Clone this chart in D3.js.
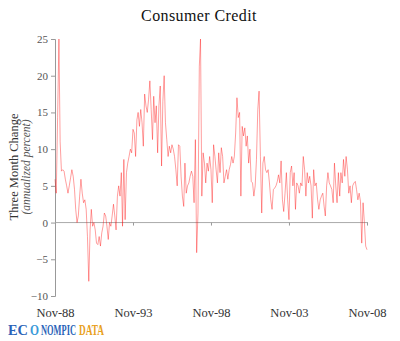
<!DOCTYPE html>
<html>
<head>
<meta charset="utf-8">
<script src="https://cdn.jsdelivr.net/npm/d3@7"></script>
<style>
  html, body { margin: 0; padding: 0; background: #fff; }
  svg { display: block; }
</style>
</head>
<body>
<svg id="chart" width="400" height="341"></svg>
<script>
// ---- Data (monthly, starting Nov-1988) ----
const startMonth = "1988-11";
const values = [
  5.9, 4.0, 14.3, 25, 11, 7, 7.2, 7, 5.9, 5,
  4, 5, 6.1, 7.2, 6.3, 4.5, 1.8, 0, 0.9, 3.6,
  5.9, 4, 2.7, 3.1, 1.8, -1.9, -8, -1, 1.8, -0.5,
  0, -1, -2.8, -3, -1.9, -3.2, -1.4, -0.5, 1.3, 0.9,
  -0.5, -2.3, 0, -0.5, 0.9, 2.5, 0.9, -1, 3.6, 5,
  3.6, 6.8, -0.5, 8.6, 0.4, 6.8, 8.1, 9, 10, 9.5,
  12.7, 12.2, 9, 14, 15, 13.1, 15.4, 13.6, 10.4, 17.5,
  15.9, 15, 16.8, 19.3, 15.4, 11.3, 17.2, 13.6, 15.9, 9.5,
  15.9, 18.6, 7.7, 16.5, 20, 13.6, 11.3, 9, 10.4, 9.5,
  10.6, 10, 9, 7.2, 5, 10.6, 10.4, 6.3, 3.6, 2.2,
  8.1, 4, 5, 5.4, 6.3, 7, 6.3, 2.7, 11.3, -4.1,
  1.3, 21.3, 25, 3.6, 9.5, 8.1, 5.4, 8.1, 7, 9,
  7.2, 2.7, 10.6, 9, 7.2, 5.4, 9.5, 6.8, 10.2, 9,
  5.4, 6.3, 7.2, 5.9, 7.2, 7.9, 9, 8.1, 9, 12.2,
  17, 14.3, 15, 3.6, 13.1, 11.8, 12.9, 10.4, 11.8, 8.1,
  10, 5.6, 5.4, 3.6, 5, 8.6, 15.4, 17.9, 9, 1.3,
  8.1, 9, 7.2, 6.8, 7.2, 5.4, 3.1, 1.8, 4.5, 4.7,
  5, 5.6, 6.5, 5.4, 8.4, 3.1, 1.5, 4, 6.8, 3.1,
  0.4, 6.8, 7.7, 5, 6.8, 1.8, 5.4, 5, 4, 5.4,
  5, 9, 7.2, 3.6, 6.8, 5.4, 6.3, 5, 0.6, 7.2,
  5, 5.4, 3.1, 1.8, 3.1, 3.6, 4, 2.2, 0.9, 5,
  6.8, 5.4, 5, 4.5, 2.7, 8.1, 5, 2.7, 6.8, 3.6,
  6.8, 5.4, 8.6, 6.3, 9, 7.2, 4, 5, 2.7, 5,
  5.4, 5.6, 4.5, 3.1, 4, 2.9, -2.8, 2.7, 0, -3.2,
  -3.7
];
const xTickDates = ["1988-11", "1993-11", "1998-11", "2003-11", "2008-11"];
const xTickLabels = ["Nov-88", "Nov-93", "Nov-98", "Nov-03", "Nov-08"];
const yTicks = [-10, -5, 0, 5, 10, 15, 20, 25];
const title = "Consumer Credit";
const yLabel1 = "Three Month Change";
const yLabel2 = "(annualized percent)";
const logoParts = ["EC", "O", "NOMPIC", "DATA"];

// ---- Build ----
const parseM = d3.timeParse("%Y-%m");
const t0 = parseM(startMonth);
const data = values.map((v, i) => ({ date: d3.timeMonth.offset(t0, i), value: v }));
const tickDates = xTickDates.map(parseM);

const svg = d3.select("#chart");
const serif = "'Liberation Serif', 'DejaVu Serif', serif";

const x = d3.scaleTime()
  .domain([tickDates[0], tickDates[tickDates.length - 1]])
  .range([55, 367]);
const y = d3.scaleLinear().domain([-10, 25]).range([296, 39]);

// Title
svg.append("text")
  .attr("x", 199).attr("y", 21)
  .attr("text-anchor", "middle")
  .attr("font-family", serif)
  .attr("font-size", 16)
  .attr("fill", "#111")
  .attr("letter-spacing", 0.4)
  .text(title);

// Y axis
const yAxis = svg.append("g")
  .attr("transform", "translate(55,0)")
  .call(d3.axisLeft(y).tickValues(yTicks).tickSize(4).tickPadding(3).tickFormat(d3.format("d")));
yAxis.select(".domain").attr("stroke", "#999");
yAxis.selectAll(".tick line").attr("stroke", "#999");
yAxis.selectAll(".tick text")
  .attr("font-family", serif).attr("font-size", 11).attr("fill", "#555");

// X axis (zero line with ticks), labels placed at bottom
const labelMap = new Map(tickDates.map((d, i) => [+d, xTickLabels[i]]));
const xAxis = svg.append("g")
  .attr("transform", `translate(0,${y(0)})`)
  .call(d3.axisBottom(x).tickValues(tickDates).tickSize(3).tickPadding(83)
    .tickFormat(d => labelMap.get(+d)));
xAxis.select(".domain").attr("stroke", "#aaa").attr("d", `M55,0H368`);
xAxis.selectAll(".tick line").attr("stroke", "#999");
xAxis.selectAll(".tick text")
  .attr("font-family", serif).attr("font-size", 12.5).attr("fill", "#333");

// Line
const line = d3.line().x(d => x(d.date)).y(d => y(d.value));
svg.append("path")
  .datum(data)
  .attr("fill", "none")
  .attr("stroke", "#ff0000")
  .attr("stroke-opacity", 0.7)
  .attr("stroke-width", 0.55)
  .attr("d", line);

// Y label
const yl = svg.append("g").attr("transform", "translate(18,167) rotate(-90)");
yl.append("text")
  .attr("text-anchor", "middle")
  .attr("font-family", serif).attr("font-size", 12.5).attr("fill", "#333")
  .text(yLabel1);
yl.append("text")
  .attr("y", 12)
  .attr("text-anchor", "middle")
  .attr("font-family", serif).attr("font-size", 11.5).attr("font-style", "italic").attr("fill", "#555")
  .text(yLabel2);

// Logo (each part horizontally condensed to fit its slot)
const logoX = [8, 30, 41, 79];
const logoW = [20, 9, 35, 25];
const logoC = ["#2a63b8", "#3a9ad9", "#2a63b8", "#e8a020"];
const lg = svg.append("g").selectAll("g").data(logoParts).join("g");
lg.append("text")
  .attr("font-family", serif).attr("font-weight", "bold")
  .attr("font-size", 14)
  .attr("fill", (d, i) => logoC[i])
  .text(d => d);
lg.attr("transform", function(d, i) {
  const w = this.querySelector("text").getComputedTextLength() || 1;
  return `translate(${logoX[i]},335) scale(${logoW[i] / w},1)`;
});
</script>
</body>
</html>
